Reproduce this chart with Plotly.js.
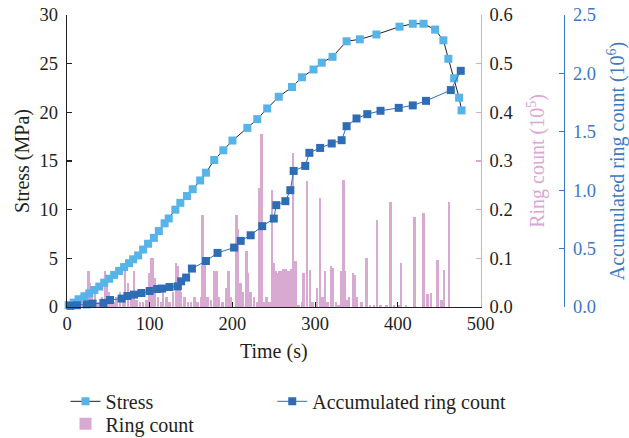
<!DOCTYPE html>
<html>
<head>
<meta charset="utf-8">
<script src="https://cdn.plot.ly/plotly-3.0.1.min.js"></script>
<style>
  html, body { margin: 0; padding: 0; background: #fff; }
  #chart { width: 629px; height: 438px; }
</style>
</head>
<body>
<div id="chart"></div>
<script>
// Uniaxial loading test: stress, acoustic emission ring count and accumulated ring count vs time

// Stress curve (MPa)
const stressTime = [2, 8, 14, 21, 27, 33, 39, 45, 51, 57, 63, 69, 75, 80, 86, 92, 98, 105, 111, 118,
  123, 131, 137, 145, 152, 161, 168, 178, 189, 200, 218, 230, 242, 256, 272, 284, 298, 308, 321, 338,
  354, 374, 402, 418, 431, 445, 455, 461, 468, 474, 477];
const stressValue = [0.2, 0.45, 0.8, 1.1, 1.4, 1.75, 2.1, 2.5, 2.9, 3.3, 3.7, 4.1, 4.5, 4.9, 5.3, 5.9, 6.5, 7.1, 7.8, 8.6,
  9.1, 10.0, 10.7, 11.4, 12.1, 13.0, 13.8, 15.1, 16.1, 17.1, 18.4, 19.3, 20.4, 21.6, 22.6, 23.6, 24.4, 25.1, 25.7, 27.3,
  27.5, 28.0, 28.8, 29.1, 29.1, 28.5, 27.4, 25.5, 23.5, 21.5, 20.2];

// Accumulated ring count (10^6)
const accumTime = [4, 12, 24, 31, 44, 52, 66, 73, 81, 90, 100, 109, 115, 124, 134, 138, 144, 151, 168, 182,
  202, 210, 222, 236, 250, 253, 264, 270, 274, 288, 293, 306, 320, 332, 338, 350, 363, 379, 401, 418,
  434, 464, 476];
const accumValue = [0.01, 0.015, 0.023, 0.029, 0.035, 0.06, 0.072, 0.094, 0.106, 0.12, 0.137, 0.154, 0.158, 0.171, 0.177, 0.22, 0.252, 0.329, 0.394, 0.463,
  0.509, 0.566, 0.614, 0.692, 0.757, 0.872, 0.906, 1.0, 1.165, 1.208, 1.32, 1.362, 1.4, 1.428, 1.548, 1.614, 1.651, 1.68, 1.705, 1.726,
  1.765, 1.857, 2.022];

// Ring count per interval (10^5)
const ringTime = [5, 10, 15, 18, 22, 26, 28, 30, 34, 38, 42, 46, 48, 50, 53, 56, 60, 64, 68, 70,
  74, 78, 81, 84, 88, 92, 96, 99, 102, 104, 106, 110, 114, 116, 120, 124, 128, 132, 134, 136,
  138, 142, 146, 150, 154, 158, 162, 164, 167, 170, 174, 178, 181, 184, 188, 192, 195, 198, 205, 207,
  210, 213, 217, 219, 222, 226, 230, 232, 235, 238, 241, 245, 248, 250, 252, 254, 256, 258, 262, 265,
  268, 271, 273, 276, 280, 284, 286, 290, 294, 297, 302, 306, 309, 312, 315, 319, 321, 325, 328, 331,
  334, 336, 339, 341, 346, 348, 350, 356, 362, 366, 371, 375, 379, 386, 391, 395, 401, 404, 410, 420,
  431, 436, 440, 448, 453, 456, 462];
const ringValue = [0.005, 0.01, 0.02, 0.01, 0.03, 0.075, 0.05, 0.02, 0.03, 0.01, 0.02, 0.075, 0.05, 0.03, 0.02, 0.01, 0.02, 0.03, 0.02, 0.075,
  0.05, 0.02, 0.075, 0.015, 0.01, 0.01, 0.015, 0.07, 0.1, 0.1, 0.06, 0.02, 0.01, 0.04, 0.02, 0.01, 0.03, 0.09, 0.085, 0.06,
  0.03, 0.02, 0.01, 0.01, 0.02, 0.01, 0.02, 0.19, 0.09, 0.02, 0.015, 0.074, 0.074, 0.02, 0.01, 0.04, 0.074, 0.02, 0.19, 0.16,
  0.05, 0.03, 0.115, 0.07, 0.03, 0.02, 0.01, 0.245, 0.355, 0.01, 0.02, 0.01, 0.24, 0.09, 0.074, 0.07, 0.074, 0.074, 0.078, 0.078,
  0.074, 0.078, 0.317, 0.095, 0.005, 0.01, 0.07, 0.259, 0.076, 0.01, 0.04, 0.223, 0.02, 0.074, 0.01, 0.085, 0.08, 0.01, 0.005, 0.074,
  0.261, 0.074, 0.015, 0.02, 0.07, 0.065, 0.02, 0.01, 0.1, 0.005, 0.005, 0.178, 0.005, 0.005, 0.216, 0.005, 0.005, 0.09, 0.005, 0.185,
  0.193, 0.026, 0.029, 0.097, 0.015, 0.076, 0.215];

const xTicks = [0, 100, 200, 300, 400, 500];

const INK = '#231f20';
const LIGHT_BLUE = '#56b4e9';
const DARK_BLUE = '#2e6db5';
const PINK = '#d8aad2';
const AXIS_PINK = '#dba6d4';
const AXIS_BLUE = '#3a78c4';
const FONT = 'Liberation Serif, Times New Roman, serif';

const traces = [
  {
    type: 'bar', name: 'Ring count', x: ringTime, y: ringValue, width: 3,
    marker: {color: PINK, line: {width: 0}},
    xaxis: 'x', yaxis: 'y', legend: 'legend3'
  },
  {
    type: 'scatter', mode: 'lines+markers', name: 'Stress', x: stressTime, y: stressValue,
    line: {color: INK, width: 1},
    marker: {symbol: 'square', size: 8, color: LIGHT_BLUE},
    cliponaxis: false, xaxis: 'x', yaxis: 'y2', legend: 'legend'
  },
  {
    type: 'scatter', mode: 'lines+markers', name: 'Accumulated ring count', x: accumTime, y: accumValue,
    line: {color: DARK_BLUE, width: 1},
    marker: {symbol: 'square', size: 8, color: DARK_BLUE},
    cliponaxis: false, xaxis: 'x', yaxis: 'y3', legend: 'legend2'
  }
];

const tickFont = {family: FONT, size: 18.5, color: INK};
const legendBase = {
  orientation: 'h', xanchor: 'left', yanchor: 'middle',
  font: {family: FONT, size: 20, color: INK}, bgcolor: 'rgba(0,0,0,0)', borderwidth: 0
};

const layout = {
  width: 629, height: 438,
  margin: {l: 66.5, r: 65, t: 15, b: 131.3, pad: 0, autoexpand: false},
  paper_bgcolor: '#fff', plot_bgcolor: '#fff',
  font: {family: FONT, size: 18.5, color: INK},
  showlegend: true,
  bargap: 0,
  xaxis: {
    domain: [0, 0.8322],
    range: [0, 500], tickvals: xTicks, ticks: 'inside', ticklen: 5, tickcolor: INK, tickwidth: 1.2,
    showline: true, linecolor: INK, linewidth: 1.2, showgrid: false, zeroline: false,
    tickfont: tickFont, automargin: false,
    title: {text: 'Time (s)', font: {family: FONT, size: 20, color: INK}, standoff: 10}
  },
  yaxis: {
    range: [0, 0.6], dtick: 0.1, tickformat: '.1f', side: 'right', anchor: 'x',
    ticks: 'inside', ticklen: 5, tickcolor: AXIS_PINK, tickwidth: 1.2, ticklabelstandoff: 4,
    showline: true, linecolor: AXIS_PINK, linewidth: 1.2, showgrid: false, zeroline: false,
    tickfont: tickFont, automargin: false,
    title: {text: 'Ring count (10<sup>5</sup>)', font: {family: FONT, size: 20, color: AXIS_PINK}, standoff: 18}
  },
  yaxis2: {
    range: [0, 30], dtick: 5, overlaying: 'y', side: 'left', anchor: 'x',
    ticks: 'inside', ticklen: 5, tickcolor: INK, tickwidth: 1.2, ticklabelstandoff: 4,
    showline: true, linecolor: INK, linewidth: 1.2, showgrid: false, zeroline: false,
    tickfont: tickFont, automargin: false,
    title: {text: 'Stress (MPa)', font: {family: FONT, size: 20, color: INK}, standoff: 4}
  },
  yaxis3: {
    range: [0, 2.5], dtick: 0.5, tickformat: '.1f', overlaying: 'y', side: 'right',
    anchor: 'free', position: 1,
    ticks: 'inside', ticklen: 5, tickcolor: AXIS_BLUE, tickwidth: 1.2, ticklabelstandoff: 4,
    showline: true, linecolor: AXIS_BLUE, linewidth: 1.2, showgrid: false, zeroline: false,
    tickfont: {family: FONT, size: 18.5, color: AXIS_BLUE}, automargin: false,
    title: {text: 'Accumulated ring count (10<sup>6</sup>)', font: {family: FONT, size: 20, color: AXIS_BLUE}, standoff: 28}
  },
  legend: Object.assign({}, legendBase, {x: -0.003, y: -0.323}),
  legend2: Object.assign({}, legendBase, {x: 0.413, y: -0.323}),
  legend3: Object.assign({}, legendBase, {x: -0.003, y: -0.40})
};

Plotly.newPlot('chart', traces, layout, {displayModeBar: false, staticPlot: true});
</script>
</body>
</html>
